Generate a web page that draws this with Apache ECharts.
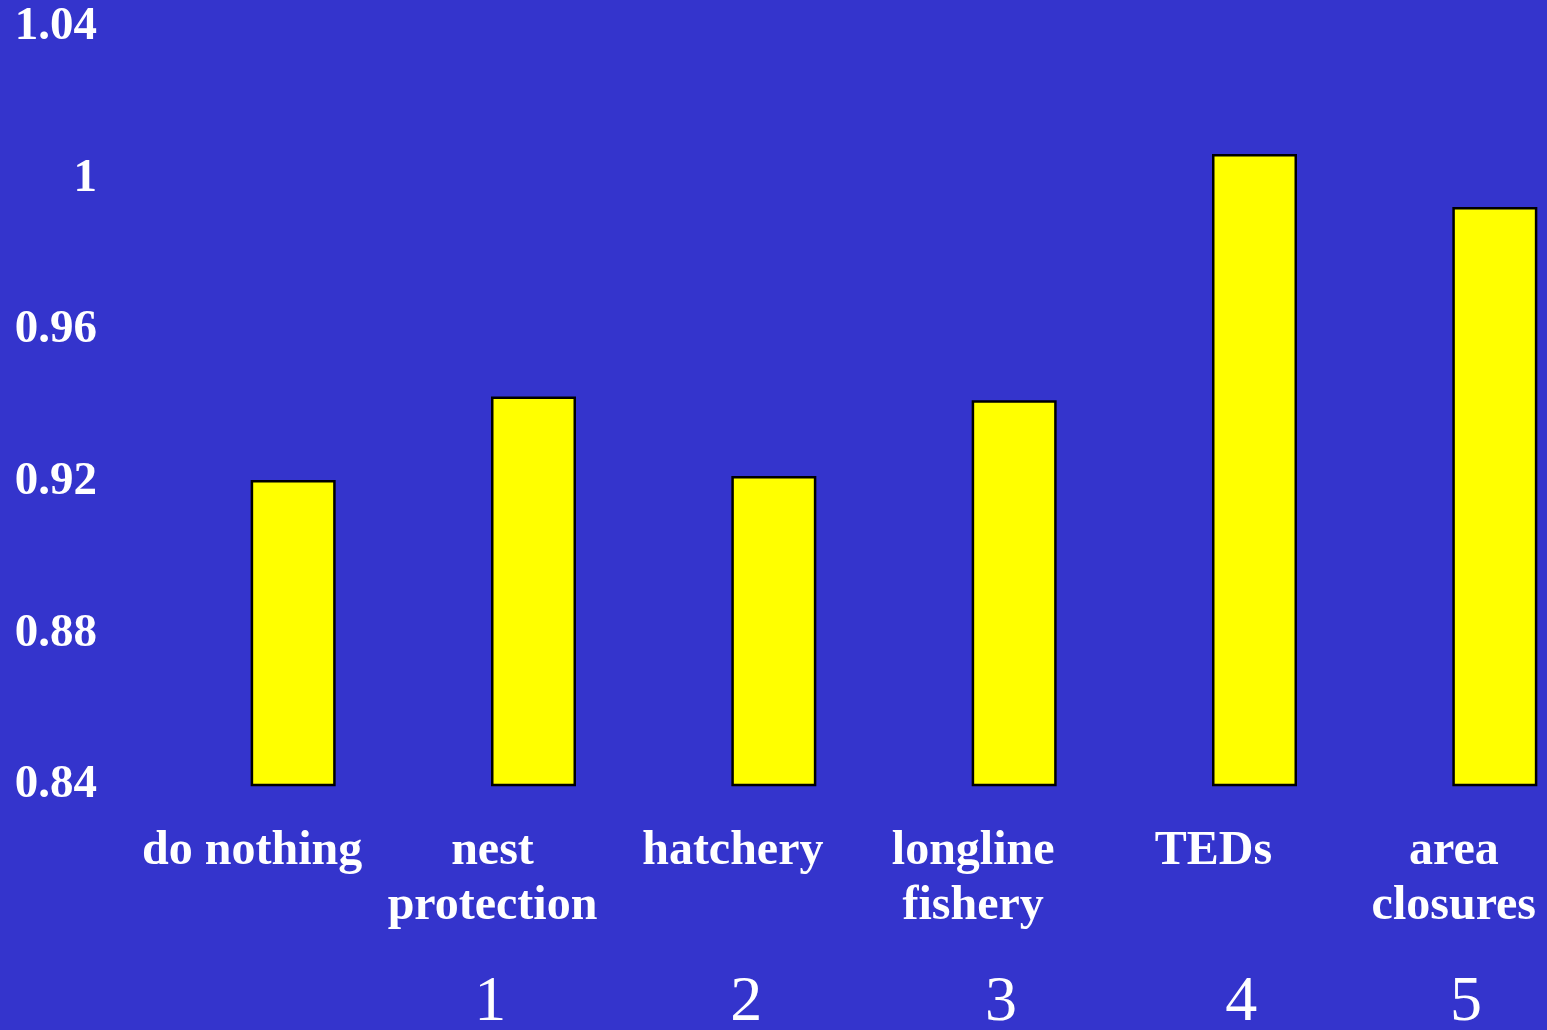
<!DOCTYPE html>
<html>
<head>
<meta charset="utf-8">
<title>Population growth rate by management option</title>
<script src="https://cdn.jsdelivr.net/npm/echarts@6/dist/echarts.min.js"></script>
<style>
  html, body { margin: 0; padding: 0; background: #3434cc; }
  #chart { width: 1547px; height: 1030px; }
</style>
</head>
<body>
<div id="chart"></div>
<script>
// Management options and the resulting growth rate (lambda)
const categories = ['do nothing', 'nest\nprotection', 'hatchery', 'longline\nfishery', 'TEDs', 'area\nclosures'];
const lambdaValues = [0.9205, 0.9425, 0.9215, 0.9415, 1.0065, 0.9925];

// Value-axis range and step
const yMin = 0.84;
const yMax = 1.04;
const yStep = 0.04;

// Secondary numbering row under the option names (position in category units, label)
const stepPositions = [0.82, 1.885, 2.945, 3.945, 4.88];
const stepLabels = ['1', '2', '3', '4', '5'];

const serif = '"Liberation Serif", "Times New Roman", Times, serif';

const chart = echarts.init(document.getElementById('chart'), null, { renderer: 'canvas' });

chart.setOption({
  backgroundColor: '#3434cc',
  animation: false,
  grid: {
    left: 173, top: 27, width: 1442, height: 758,
    containLabel: false,
    outerBoundsMode: 'none'
  },
  xAxis: [
    {
      type: 'category',
      data: categories,
      position: 'bottom',
      axisLine: { show: false },
      axisTick: { show: false },
      splitLine: { show: false },
      axisLabel: {
        interval: 0,
        margin: 39,
        color: '#ffffff',
        fontFamily: serif,
        fontWeight: 'bold',
        fontSize: 48,
        lineHeight: 55,
        padding: [0, 82, 0, 0]
      }
    },
    {
      type: 'value',
      min: -0.5,
      max: 5.5,
      position: 'bottom',
      axisLine: { show: false },
      axisTick: { show: false },
      splitLine: { show: false },
      axisLabel: {
        customValues: stepPositions,
        margin: 186,
        color: '#ffffff',
        fontFamily: serif,
        fontWeight: 'normal',
        fontSize: 64,
        lineHeight: 64,
        formatter: function (v) {
          const i = stepPositions.findIndex(p => Math.abs(p - v) < 1e-6);
          return i >= 0 ? stepLabels[i] : '';
        }
      }
    }
  ],
  yAxis: {
    type: 'value',
    min: yMin,
    max: yMax,
    interval: yStep,
    axisLine: { show: false },
    axisTick: { show: false },
    splitLine: { show: false },
    axisLabel: {
      margin: 76,
      color: '#ffffff',
      fontFamily: serif,
      fontWeight: 'bold',
      fontSize: 47,
      lineHeight: 47,
      padding: [12, 0, 0, 0],
      formatter: function (v) {
        return String(parseFloat(v.toFixed(2)));
      }
    }
  },
  series: [
    {
      type: 'bar',
      xAxisIndex: 0,
      data: lambdaValues,
      barWidth: 85,
      itemStyle: {
        color: '#ffff00',
        borderColor: '#000000',
        borderWidth: 2.5
      }
    }
  ]
});
</script>
</body>
</html>
